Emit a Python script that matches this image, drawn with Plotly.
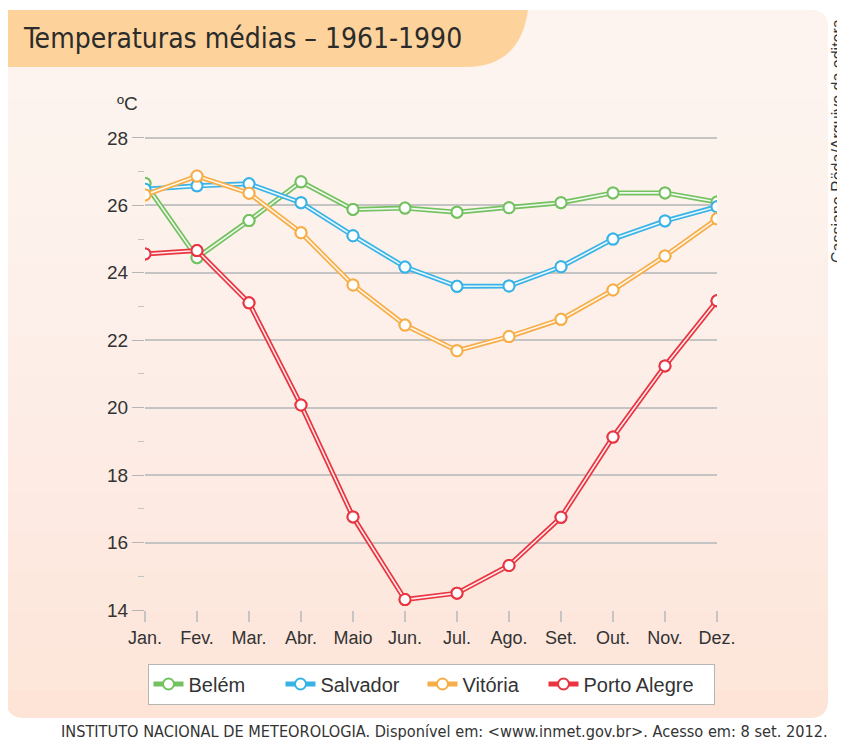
import plotly.graph_objects as go

# ---------------- data ----------------
months = ["Jan.", "Fev.", "Mar.", "Abr.", "Maio", "Jun.", "Jul.", "Ago.", "Set.", "Out.", "Nov.", "Dez."]
belem = [26.65, 24.45, 25.55, 26.70, 25.88, 25.92, 25.80, 25.93, 26.08, 26.37, 26.37, 26.10]
salvador = [26.48, 26.58, 26.64, 26.08, 25.10, 24.17, 23.60, 23.61, 24.18, 25.00, 25.54, 25.96]
vitoria = [26.31, 26.87, 26.36, 25.19, 23.64, 22.45, 21.69, 22.11, 22.62, 23.49, 24.50, 25.60]
porto_alegre = [24.56, 24.66, 23.11, 20.08, 16.76, 14.31, 14.50, 15.32, 16.75, 19.13, 21.24, 23.17]

series_names = ["Belém", "Salvador", "Vitória", "Porto Alegre"]
series_values = [belem, salvador, vitoria, porto_alegre]
series_colors = ["#74c160", "#38b3e6", "#f7ae48", "#ea3440"]
legend_widths = [87, 97, 76, 125]

y_ticks = [14, 16, 18, 20, 22, 24, 26, 28]

title_text = "Temperaturas médias – 1961-1990"
unit_text = "ºC"
source_text = "INSTITUTO NACIONAL DE METEOROLOGIA. Disponível em: &lt;www.inmet.gov.br&gt;. Acesso em: 8 set. 2012."
credit_text = "Cassiano Röda/Arquivo da editora"

# ---------------- layout geometry ----------------
# The page body has an 8px margin, so the figure is shrunk and shifted
OFF = 8
PL, PR, PT, PB = 145, 717, 113, 610        # plot area in window pixels
PW, PH = PR - PL, PB - PT
W, H = 845 - OFF, 743 - OFF
L, T = PL - OFF, PT - OFF
R, B = W - L - PW, H - T - PH


def px(x):
    return (x - PL) / PW


def py(y):
    return (PB - y) / PH


def pt(a, b):
    return f"{px(a):.5f},{py(b):.5f}"


def rrect(x0, y0, x1, y1, r, rb=None):
    rb = r if rb is None else rb
    s = f"M {pt(x0 + r, y0)} L {pt(x1 - r, y0)} Q {pt(x1, y0)} {pt(x1, y0 + r)} "
    if rb > 0:
        s += f"L {pt(x1, y1 - rb)} Q {pt(x1, y1)} {pt(x1 - rb, y1)} "
        s += f"L {pt(x0 + rb, y1)} Q {pt(x0, y1)} {pt(x0, y1 - rb)} "
    else:
        s += f"L {pt(x1, y1)} L {pt(x0, y1)} "
    s += f"L {pt(x0, y0 + r)} Q {pt(x0, y0)} {pt(x0 + r, y0)} Z"
    return s


def tab_path():
    s = f"M {pt(6, 10)} L {pt(528, 10)} "
    s += f"Q {pt(520, 67)} {pt(466, 67)} "
    s += f"L {pt(6, 67)} Z"
    return s


fig = go.Figure()

for name, vals, col, lw in zip(series_names, series_values, series_colors, legend_widths):
    fig.add_trace(go.Scatter(
        x=months, y=vals, name=name, mode="lines+markers",
        line=dict(color=col, width=5),
        marker=dict(symbol="circle", size=11, color="white", line=dict(color=col, width=2)),
        legendgroup=name, showlegend=True, legendwidth=lw, hoverinfo="skip",
    ))
    fig.add_trace(go.Scatter(
        x=months, y=vals, mode="lines",
        line=dict(color="rgba(255,255,255,0.9)", width=1.6),
        legendgroup=name, showlegend=False, hoverinfo="skip",
    ))
    fig.add_trace(go.Scatter(
        x=months, y=vals, mode="markers",
        marker=dict(symbol="circle", size=11, color="white", line=dict(color=col, width=2)),
        legendgroup=name, showlegend=False, hoverinfo="skip",
    ))

# panel with a soft vertical gradient (stacked translucent white layers)
shapes = [
    dict(type="path", xref="paper", yref="paper", path=rrect(6, 10, 828, 718, 18),
         fillcolor="#fde4d7", line=dict(width=0), layer="below"),
]
N = 16
for k in range(N):
    yb = 690 - k * (630 / N)
    shapes.append(dict(type="path", xref="paper", yref="paper", path=rrect(6, 10, 828, yb, 18, rb=0),
                       fillcolor="rgba(255,255,255,0.075)", line=dict(width=0), layer="below"))
shapes.append(dict(type="path", xref="paper", yref="paper", path=tab_path(),
                   fillcolor="#fdd39b", line=dict(width=0), layer="below"))

annotations = [
    dict(text=title_text, xref="paper", yref="paper", x=px(21), y=py(39),
         xanchor="left", yanchor="middle", showarrow=False,
         font=dict(family="Liberation Sans Narrow, DejaVu Sans Condensed, Arial", size=28, color="#2b2b2b")),
    dict(text=unit_text, xref="paper", yref="paper", x=px(127), y=py(103),
         xanchor="center", yanchor="middle", showarrow=False,
         font=dict(family="Liberation Sans, Arial", size=19, color="#333333")),
    dict(text=source_text, xref="paper", yref="paper", x=px(830), y=py(731),
         xanchor="right", yanchor="middle", showarrow=False,
         font=dict(family="Liberation Sans Narrow, DejaVu Sans Condensed, Arial", size=16.2, color="#333333")),
    dict(text=credit_text, xref="paper", yref="paper", x=px(837), y=py(265),
         xanchor="center", yanchor="bottom", showarrow=False, textangle=-90,
         font=dict(family="Liberation Sans, Arial", size=16, color="#333333")),
]

fig.update_layout(
    width=W, height=H,
    margin=dict(l=L, r=R, t=T, b=B, pad=0),
    paper_bgcolor="white",
    plot_bgcolor="white",
    shapes=shapes,
    annotations=annotations,
    showlegend=True,
    legend=dict(
        orientation="h", x=px(431), y=py(684), xanchor="center", yanchor="middle",
        bgcolor="white", bordercolor="#b5b5b5", borderwidth=1,
        font=dict(family="Liberation Sans, Arial", size=20, color="#333333"),
        traceorder="normal",
    ),
    xaxis=dict(
        type="category", range=[0, 11], showgrid=False, zeroline=False,
        ticks="outside", ticklen=11, tickwidth=1.5, tickcolor="#c4c4c4",
        tickfont=dict(family="Liberation Sans, Arial", size=18, color="#333333"),
        showline=False, fixedrange=True,
    ),
    yaxis=dict(
        range=[14, 28.74], tickvals=y_ticks, showgrid=True, gridcolor="#c4c4c4", gridwidth=1.5,
        zeroline=False, ticks="outside", ticklen=12, tickwidth=1.2, tickcolor="#b5b5b5",
        tickfont=dict(family="Liberation Sans, Arial", size=19, color="#333333"),
        minor=dict(dtick=1, tick0=15, ticks="outside", ticklen=6, tickcolor="#c4c4c4", showgrid=False),
        showline=False, fixedrange=True,
    ),
)

fig.write_html("out.html")
